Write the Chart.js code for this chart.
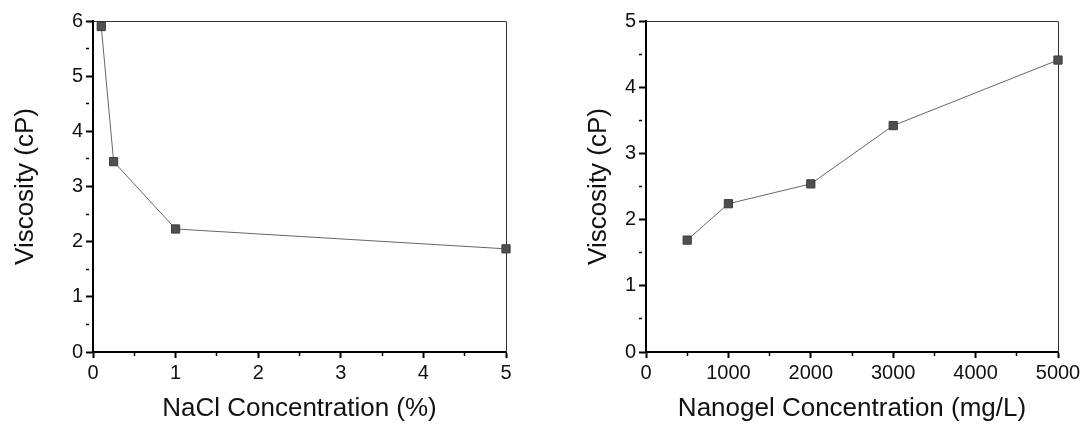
<!DOCTYPE html>
<html>
<head>
<meta charset="utf-8">
<script src="https://cdn.jsdelivr.net/npm/chart.js@4"></script>
<style>
    html, body { margin: 0; padding: 0; background: #fff; }
    #wrap { position: relative; width: 1084px; height: 424px; }
    canvas { position: absolute; top: 0; }
</style>
</head>
<body>
<div id="wrap">
    <canvas id="naclChart" width="542" height="424" style="left:0"></canvas>
    <canvas id="gelChart" width="542" height="424" style="left:542px"></canvas>
</div>
<script>
// NaCl panel
const naclConc = [0.1, 0.25, 1, 5];
const naclViscosity = [5.9, 3.45, 2.23, 1.87];
const naclXTicks = [0, 1, 2, 3, 4, 5];
const naclYTicks = [0, 1, 2, 3, 4, 5, 6];

// Nanogel panel
const gelConc = [500, 1000, 2000, 3000, 5000];
const gelViscosity = [1.69, 2.24, 2.54, 3.42, 4.41];
const gelXTicks = [0, 1000, 2000, 3000, 4000, 5000];
const gelYTicks = [0, 1, 2, 3, 4, 5];

const FONT = "'Liberation Sans', Arial, sans-serif";
const TEXT = '#111';

// thin top/right frame lines
const framePlugin = {
    id: 'frame',
    beforeDatasetsDraw(chart) {
        const { ctx, chartArea: a } = chart;
        ctx.save();
        ctx.strokeStyle = '#333';
        ctx.lineWidth = 1;
        ctx.beginPath();
        ctx.moveTo(a.left, a.top + 0.5);
        ctx.lineTo(a.right + 0.5, a.top + 0.5);
        ctx.lineTo(a.right + 0.5, a.bottom);
        ctx.stroke();
        ctx.restore();
    }
};

function axisOpts(ticks, step, tickLen, pad, title, titlePad, fitSize, horizontal) {
    const isMajor = v => ticks.includes(v);
    return {
        type: 'linear',
        min: ticks[0],
        max: ticks[ticks.length - 1],
        afterFit: s => { if (horizontal) s.height = fitSize; else s.width = fitSize; },
        ticks: {
            stepSize: step,
            autoSkip: false,
            maxRotation: 0,
            padding: pad,
            color: TEXT,
            font: { family: FONT, size: 20 },
            callback: v => isMajor(v) ? String(v) : ''
        },
        grid: {
            drawOnChartArea: false,
            drawTicks: true,
            tickLength: tickLen,
            tickColor: '#000',
            tickWidth: c => isMajor(c.tick.value) ? 2 : 1.5,
            tickBorderDash: c => isMajor(c.tick.value) ? [] : [3, 50]
        },
        border: { display: true, color: '#000', width: 2 },
        title: {
            display: true,
            text: title,
            color: TEXT,
            font: { family: FONT, size: 26 },
            padding: titlePad
        }
    };
}

function makePanel(id, xs, ys, xTicks, xStep, yTicks, yStep, xTitle, yWidth, yTitlePad, rightPad) {
    const ctx = document.getElementById(id);
    return new Chart(ctx, {
        type: 'line',
        data: {
            datasets: [{
                data: xs.map((x, i) => ({ x: x, y: ys[i] })),
                borderColor: '#666',
                borderWidth: 1,
                pointStyle: 'rect',
                pointRadius: 5.8,
                pointBackgroundColor: '#4f4f4f',
                pointBorderColor: '#3c3c3c',
                pointBorderWidth: 1,
                tension: 0,
                clip: false
            }]
        },
        options: {
            responsive: false,
            animation: false,
            layout: { padding: { left: 0, top: 21, right: rightPad, bottom: 0 } },
            plugins: { legend: { display: false }, tooltip: { enabled: false } },
            scales: {
                x: axisOpts(xTicks, xStep, 6, 3, xTitle, { top: 0, bottom: 0 }, 72, true),
                y: axisOpts(yTicks, yStep, 7, 3, 'Viscosity (cP)', { top: yTitlePad, bottom: 0 }, yWidth, false)
            }
        },
        plugins: [framePlugin]
    });
}

makePanel('naclChart', naclConc, naclViscosity, naclXTicks, 0.5, naclYTicks, 0.5,
    'NaCl Concentration (%)', 93, 10, 36);
makePanel('gelChart', gelConc, gelViscosity, gelXTicks, 500, gelYTicks, 0.5,
    'Nanogel Concentration (mg/L)', 104, 41, 26);
</script>
</body>
</html>
